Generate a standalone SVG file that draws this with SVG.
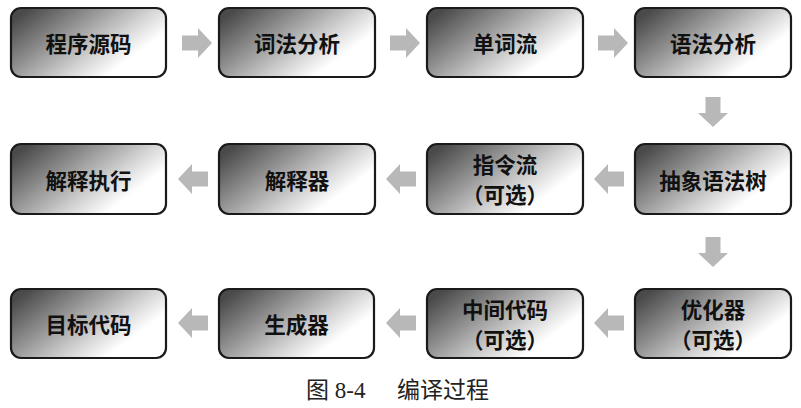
<svg xmlns="http://www.w3.org/2000/svg" width="801" height="408" viewBox="0 0 801 408">
<defs>
<linearGradient id="g" x1="0" y1="0.2" x2="1" y2="0.8">
<stop offset="0" stop-color="#4a4a4a"/>
<stop offset="0.3" stop-color="#8e8e8e"/>
<stop offset="0.6" stop-color="#d4d4d4"/>
<stop offset="0.8" stop-color="#ffffff"/>
</linearGradient>
<path id="ar" d="M-15,-7.5 L1,-7.5 L1,-15 L15,0 L1,15 L1,7.5 L-15,7.5 Z" fill="#b8b8b8"/>
</defs>
<style>
.box{fill:url(#g);stroke:#1a1a1a;stroke-width:2.2}
.t{font-family:"Noto Sans CJK SC","Liberation Sans",sans-serif;font-weight:bold;font-size:21.5px;fill:#111;text-anchor:middle;dominant-baseline:central}
.cap{font-family:"Liberation Serif","Noto Sans CJK SC",serif;font-size:23px;fill:#222;dominant-baseline:central}
</style>
<rect width="801" height="408" fill="#fff"/>
<g id="n1"><rect class="box" x="11" y="8" width="155" height="69" rx="10"/><text class="t" x="88.5" y="42.5">程序源码</text></g>
<g id="n2"><rect class="box" x="219" y="8" width="156" height="69" rx="10"/><text class="t" x="297" y="42.5">词法分析</text></g>
<g id="n3"><rect class="box" x="427" y="8" width="156" height="69" rx="10"/><text class="t" x="505" y="42.5">单词流</text></g>
<g id="n4"><rect class="box" x="635" y="8" width="156" height="69" rx="10"/><text class="t" x="713" y="42.5">语法分析</text></g>
<g id="n5"><rect class="box" x="635" y="144" width="156" height="70" rx="10"/><text class="t" x="713" y="179">抽象语法树</text></g>
<g id="n6"><rect class="box" x="427" y="144" width="156" height="70" rx="10"/><text class="t" x="505" y="163">指令流</text><text class="t" x="505" y="193">（可选）</text></g>
<g id="n7"><rect class="box" x="219" y="144" width="156" height="70" rx="10"/><text class="t" x="297" y="179">解释器</text></g>
<g id="n8"><rect class="box" x="11" y="144" width="155" height="70" rx="10"/><text class="t" x="88.5" y="179">解释执行</text></g>
<g id="n9"><rect class="box" x="635" y="289" width="156" height="69" rx="10"/><text class="t" x="713" y="308">优化器</text><text class="t" x="713" y="338">（可选）</text></g>
<g id="n10"><rect class="box" x="427" y="289" width="156" height="69" rx="10"/><text class="t" x="505" y="308">中间代码</text><text class="t" x="505" y="338">（可选）</text></g>
<g id="n11"><rect class="box" x="219" y="289" width="155" height="69" rx="10"/><text class="t" x="296.5" y="323.5">生成器</text></g>
<g id="n12"><rect class="box" x="11" y="289" width="155" height="69" rx="10"/><text class="t" x="88.5" y="323.5">目标代码</text></g>
<g id="connectors">
<use href="#ar" transform="translate(197,43)"/>
<use href="#ar" transform="translate(405,43)"/>
<use href="#ar" transform="translate(613,43)"/>
<use href="#ar" transform="translate(713,112) rotate(90)"/>
<use href="#ar" transform="translate(609,179) rotate(180)"/>
<use href="#ar" transform="translate(401,179) rotate(180)"/>
<use href="#ar" transform="translate(193,179) rotate(180)"/>
<use href="#ar" transform="translate(713,252) rotate(90)"/>
<use href="#ar" transform="translate(609,323) rotate(180)"/>
<use href="#ar" transform="translate(401,323) rotate(180)"/>
<use href="#ar" transform="translate(193,323) rotate(180)"/>
</g>
<text class="cap" x="306" y="390">图 8-4</text>
<text class="cap" x="397" y="390">编译过程</text>
</svg>
